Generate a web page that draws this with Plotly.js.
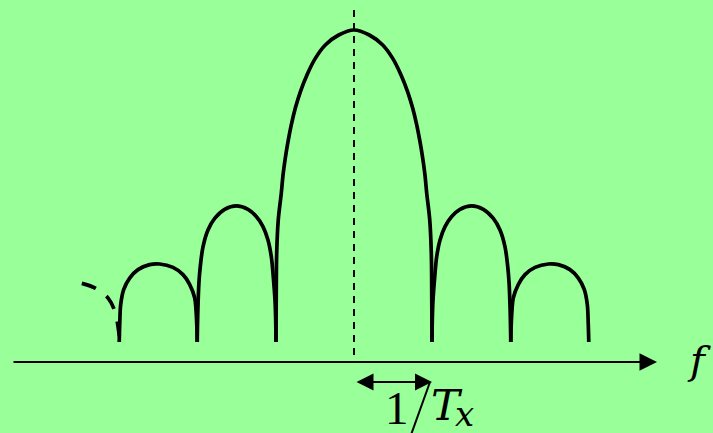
<!DOCTYPE html>
<html><head><meta charset="utf-8">
<script src="https://cdn.plot.ly/plotly-3.0.1.min.js"></script>
<style>html,body{margin:0;padding:0;background:#99ff99;} #chart{width:713px;height:433px;}</style>
</head><body><div id="chart"></div>
<script>
// Frequency in units of 1/Tx, magnitude normalised to main-lobe peak (spectrum symmetric)
const mainX = [-1, -0.997, -0.991, -0.971, -0.932, -0.910, -0.881, -0.846, -0.804, -0.753, -0.688, -0.603, -0.496, -0.368, -0.196, 0];
const mainY = [0, 0.135, 0.285, 0.391, 0.477, 0.535, 0.589, 0.642, 0.696, 0.749, 0.802, 0.856, 0.909, 0.952, 0.984, 1];
const side1X = [1, 1.004, 1.012, 1.035, 1.060, 1.103, 1.167, 1.253, 1.359, 1.509, 1.658, 1.786, 1.872, 1.936, 1.971, 1.988, 2.002, 2.01];
const side1Y = [0, 0.07, 0.13, 0.209, 0.273, 0.327, 0.370, 0.402, 0.425, 0.436, 0.425, 0.396, 0.359, 0.305, 0.241, 0.19, 0.1, 0];
const side2X = [2.01, 2.015, 2.025, 2.042, 2.106, 2.192, 2.321, 2.492, 2.620, 2.769, 2.876, 2.953, 2.991, 3.003, 3.01];
const side2Y = [0, 0.05, 0.1, 0.141, 0.184, 0.216, 0.239, 0.25, 0.248, 0.232, 0.205, 0.168, 0.12, 0.06, 0];
const tailX = [-3.49, -3.31, -3.15, -3.064, -3.019, -3.0];
const tailY = [0.188, 0.172, 0.140, 0.097, 0.038, 0];
const centerLineY = [1.064, -0.064];
const axisLabel = 'f';
const spacingLabel = ['1', 'T', 'x'];

const xr = [-4.5385, 4.6026];
const yr = [-0.29167, 1.09615];
const W = 713, H = 433;
const px = p => xr[0] + p / W * (xr[1] - xr[0]);
const py = p => yr[1] - p / H * (yr[1] - yr[0]);

function mirror(xs, ys) {
  return { x: xs.map(v => -v).reverse(), y: ys.slice().reverse() };
}
const solid = { color: '#000', width: 3.7, shape: 'spline', smoothing: 1 };
function lobe(xs, ys) {
  return { x: xs, y: ys, mode: 'lines', line: solid, hoverinfo: 'skip', showlegend: false };
}
const mainR = mirror(mainX, mainY);
const s1L = mirror(side1X, side1Y);
const s2L = mirror(side2X, side2Y);

const traces = [
  lobe(mainX.concat(mainR.x.slice(1)), mainY.concat(mainR.y.slice(1))),
  lobe(side1X, side1Y), lobe(s1L.x, s1L.y),
  lobe(side2X, side2Y), lobe(s2L.x, s2L.y),
  { x: tailX, y: tailY, mode: 'lines', line: { color: '#000', width: 3.7, shape: 'spline', dash: '15px,13px' }, hoverinfo: 'skip', showlegend: false },
  { x: [0, 0], y: centerLineY, mode: 'lines', line: { color: '#000', width: 2, dash: '7px,6px' }, hoverinfo: 'skip', showlegend: false }
];

const serif = 'Liberation Serif';
const serifIt = 'DejaVu Serif';
const layout = {
  width: W, height: H,
  margin: { l: 0, r: 0, t: 0, b: 0, pad: 0 },
  paper_bgcolor: '#99ff99', plot_bgcolor: '#99ff99',
  xaxis: { range: xr, visible: false, fixedrange: true },
  yaxis: { range: yr, visible: false, fixedrange: true },
  showlegend: false,
  shapes: [
    { type: 'line', xref: 'x', yref: 'y', x0: px(430), y0: py(382), x1: px(410.6), y1: py(436), line: { color: '#000', width: 2 } }
  ],
  annotations: [
    { x: px(657), y: py(362), ax: px(12), ay: py(362), axref: 'x', ayref: 'y', xref: 'x', yref: 'y', text: '', showarrow: true, arrowhead: 2, arrowsize: 1.75, arrowwidth: 2, arrowcolor: '#000', standoff: 0 },
    { x: px(432), y: py(382), ax: px(355), ay: py(382), axref: 'x', ayref: 'y', xref: 'x', yref: 'y', text: '', showarrow: true, arrowside: 'end+start', arrowhead: 2, startarrowhead: 2, arrowsize: 1.7, startarrowsize: 1.7, arrowwidth: 2, arrowcolor: '#000', standoff: 0, startstandoff: 0 },
    { x: px(699), y: py(360), xref: 'x', yref: 'y', text: axisLabel, showarrow: false, font: { family: serifIt, size: 40, color: '#000', style: 'italic' } },
    { x: px(396.5), y: py(408), xref: 'x', yref: 'y', text: spacingLabel[0], showarrow: false, font: { family: serif, size: 47, color: '#000' } },
    { x: px(447), y: py(405), xref: 'x', yref: 'y', text: spacingLabel[1], showarrow: false, font: { family: serifIt, size: 43, color: '#000', style: 'italic' } },
    { x: px(464), y: py(414), xref: 'x', yref: 'y', text: spacingLabel[2], showarrow: false, font: { family: serifIt, size: 34, color: '#000', style: 'italic' } }
  ]
};
Plotly.newPlot('chart', traces, layout, { staticPlot: true, displayModeBar: false });
</script></body></html>
